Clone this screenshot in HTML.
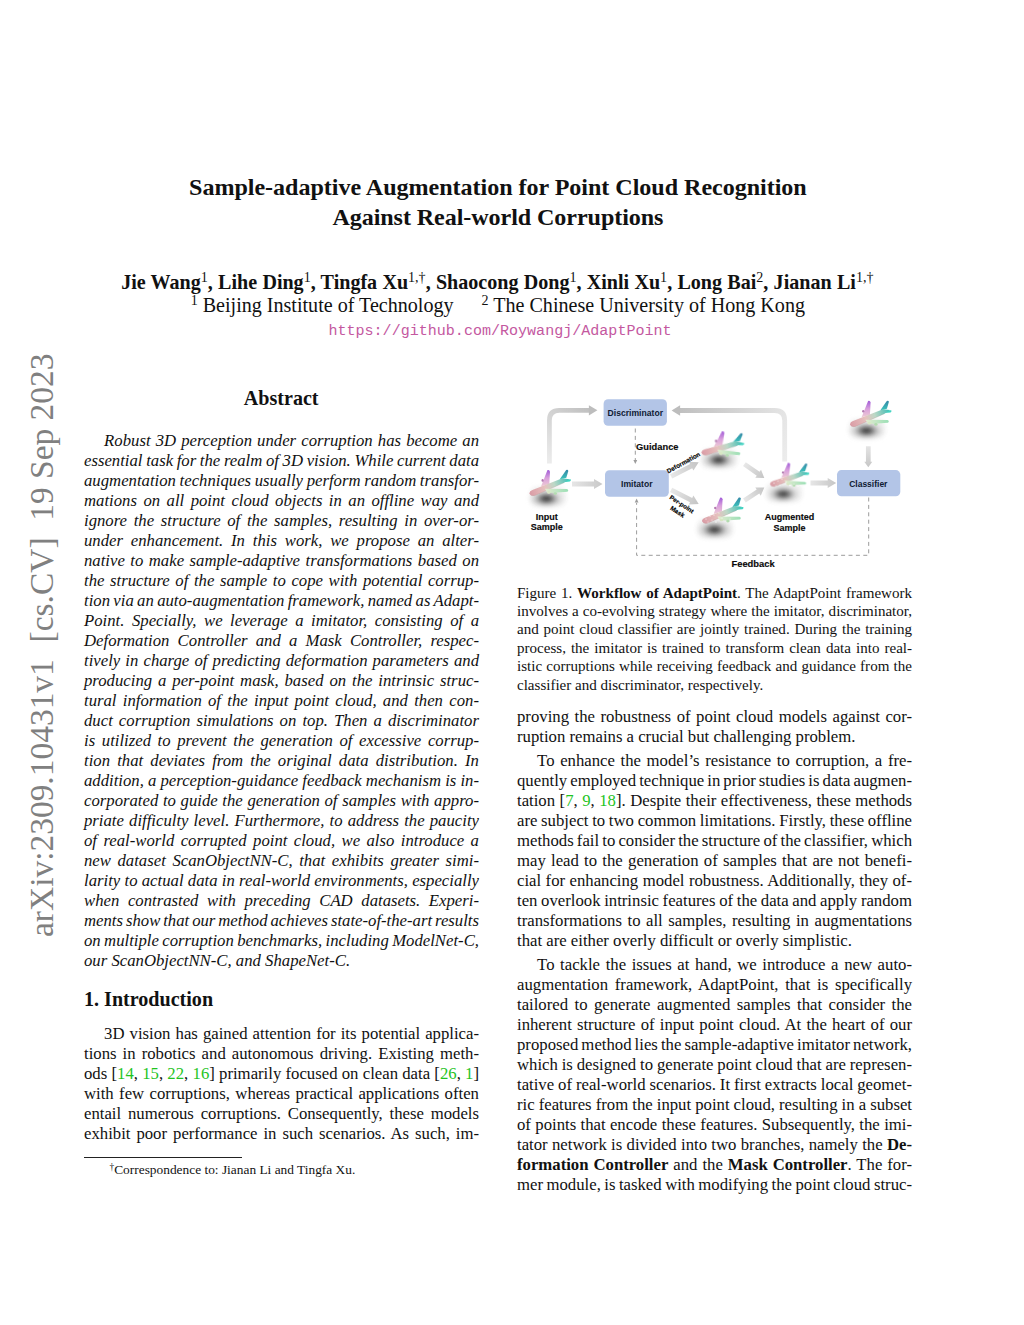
<!DOCTYPE html>
<html><head><meta charset="utf-8">
<style>
html,body{margin:0;padding:0;background:#fff;}
body{width:1024px;height:1325px;position:relative;overflow:hidden;color:#111;font-family:"Liberation Serif",serif;}
.l{position:absolute;white-space:nowrap;}
.j{text-align:justify;text-align-last:justify;}
.it{font-style:italic;}
.tb{font-weight:bold;}
.g{color:#1fc41f;}
.url{font-family:"Liberation Mono",monospace;color:#c4589f;}
sup{font-size:70%;font-weight:normal;vertical-align:0;position:relative;top:-0.5em;line-height:0;}
sup.fn{font-size:70%;top:-0.4em;}
.stamp{position:absolute;left:0;top:0;transform-origin:0 0;font-size:33.46px;color:#808080;white-space:nowrap;line-height:40px;}
</style></head><body>
<div class="stamp" style="transform:translate(22.11px,937px) rotate(-90deg);">arXiv:2309.10431v1&nbsp; [cs.CV]&nbsp; 19 Sep 2023</div>
<div class="l it" id="l0" style="top:430.71px;font-size:16.73px;line-height:20.08px;left:104.1px;width:374.9px;word-spacing:0.91px;"><span>Robust 3D perception under corruption has become an</span></div>
<div class="l it" id="l1" style="top:450.71px;font-size:16.73px;line-height:20.08px;left:84px;width:395px;word-spacing:-0.54px;"><span>essential task for the realm of 3D vision. While current data</span></div>
<div class="l it" id="l2" style="top:470.71px;font-size:16.73px;line-height:20.08px;left:84px;width:395px;word-spacing:-0.53px;"><span>augmentation techniques usually perform random transfor-</span></div>
<div class="l it" id="l3" style="top:490.71px;font-size:16.73px;line-height:20.08px;left:84px;width:395px;word-spacing:2.26px;"><span>mations on all point cloud objects in an offline way and</span></div>
<div class="l it" id="l4" style="top:510.71px;font-size:16.73px;line-height:20.08px;left:84px;width:395px;word-spacing:2.5px;"><span>ignore the structure of the samples, resulting in over-or-</span></div>
<div class="l it" id="l5" style="top:530.71px;font-size:16.73px;line-height:20.08px;left:84px;width:395px;word-spacing:3.64px;"><span>under enhancement. In this work, we propose an alter-</span></div>
<div class="l it" id="l6" style="top:550.71px;font-size:16.73px;line-height:20.08px;left:84px;width:395px;word-spacing:1.29px;"><span>native to make sample-adaptive transformations based on</span></div>
<div class="l it" id="l7" style="top:570.71px;font-size:16.73px;line-height:20.08px;left:84px;width:395px;word-spacing:1.39px;"><span>the structure of the sample to cope with potential corrup-</span></div>
<div class="l it" id="l8" style="top:590.71px;font-size:16.73px;line-height:20.08px;left:84px;width:395px;word-spacing:-0.85px;"><span>tion via an auto-augmentation framework, named as Adapt-</span></div>
<div class="l it" id="l9" style="top:610.71px;font-size:16.73px;line-height:20.08px;left:84px;width:395px;word-spacing:3.35px;"><span>Point. Specially, we leverage a imitator, consisting of a</span></div>
<div class="l it" id="l10" style="top:630.71px;font-size:16.73px;line-height:20.08px;left:84px;width:395px;word-spacing:3.99px;"><span>Deformation Controller and a Mask Controller, respec-</span></div>
<div class="l it" id="l11" style="top:650.71px;font-size:16.73px;line-height:20.08px;left:84px;width:395px;word-spacing:0.95px;"><span>tively in charge of predicting deformation parameters and</span></div>
<div class="l it" id="l12" style="top:670.71px;font-size:16.73px;line-height:20.08px;left:84px;width:395px;word-spacing:1.72px;"><span>producing a per-point mask, based on the intrinsic struc-</span></div>
<div class="l it" id="l13" style="top:690.71px;font-size:16.73px;line-height:20.08px;left:84px;width:395px;word-spacing:2.09px;"><span>tural information of the input point cloud, and then con-</span></div>
<div class="l it" id="l14" style="top:710.71px;font-size:16.73px;line-height:20.08px;left:84px;width:395px;word-spacing:1.89px;"><span>duct corruption simulations on top. Then a discriminator</span></div>
<div class="l it" id="l15" style="top:730.71px;font-size:16.73px;line-height:20.08px;left:84px;width:395px;word-spacing:2.44px;"><span>is utilized to prevent the generation of excessive corrup-</span></div>
<div class="l it" id="l16" style="top:750.71px;font-size:16.73px;line-height:20.08px;left:84px;width:395px;word-spacing:2.95px;"><span>tion that deviates from the original data distribution. In</span></div>
<div class="l it" id="l17" style="top:770.71px;font-size:16.73px;line-height:20.08px;left:84px;width:395px;word-spacing:-0.07px;"><span>addition, a perception-guidance feedback mechanism is in-</span></div>
<div class="l it" id="l18" style="top:790.71px;font-size:16.73px;line-height:20.08px;left:84px;width:395px;word-spacing:0.46px;"><span>corporated to guide the generation of samples with appro-</span></div>
<div class="l it" id="l19" style="top:810.71px;font-size:16.73px;line-height:20.08px;left:84px;width:395px;word-spacing:0.95px;"><span>priate difficulty level. Furthermore, to address the paucity</span></div>
<div class="l it" id="l20" style="top:830.71px;font-size:16.73px;line-height:20.08px;left:84px;width:395px;word-spacing:2.22px;"><span>of real-world corrupted point cloud, we also introduce a</span></div>
<div class="l it" id="l21" style="top:850.71px;font-size:16.73px;line-height:20.08px;left:84px;width:395px;word-spacing:2.4px;"><span>new dataset ScanObjectNN-C, that exhibits greater simi-</span></div>
<div class="l it" id="l22" style="top:870.71px;font-size:16.73px;line-height:20.08px;left:84px;width:395px;word-spacing:0.09px;"><span>larity to actual data in real-world environments, especially</span></div>
<div class="l it" id="l23" style="top:890.71px;font-size:16.73px;line-height:20.08px;left:84px;width:395px;word-spacing:4.41px;"><span>when contrasted with preceding CAD datasets. Experi-</span></div>
<div class="l it" id="l24" style="top:910.71px;font-size:16.73px;line-height:20.08px;left:84px;width:395px;word-spacing:-1.26px;"><span>ments show that our method achieves state-of-the-art results</span></div>
<div class="l it" id="l25" style="top:930.71px;font-size:16.73px;line-height:20.08px;left:84px;width:395px;word-spacing:-0.78px;"><span>on multiple corruption benchmarks, including ModelNet-C,</span></div>
<div class="l it" id="l26" style="top:950.71px;font-size:16.73px;line-height:20.08px;left:84px;"><span>our ScanObjectNN-C, and ShapeNet-C.</span></div>
<div class="l rm" id="l27" style="top:1024.01px;font-size:16.73px;line-height:20.08px;left:104.1px;width:374.9px;word-spacing:0.9px;"><span>3D vision has gained attention for its potential applica-</span></div>
<div class="l rm" id="l28" style="top:1044.01px;font-size:16.73px;line-height:20.08px;left:84px;width:395px;word-spacing:1.9px;"><span>tions in robotics and autonomous driving. Existing meth-</span></div>
<div class="l rm" id="l29" style="top:1064.01px;font-size:16.73px;line-height:20.08px;left:84px;width:395px;word-spacing:0.07px;"><span>ods [<span class="g">14</span>, <span class="g">15</span>, <span class="g">22</span>, <span class="g">16</span>] primarily focused on clean data [<span class="g">26</span>, <span class="g">1</span>]</span></div>
<div class="l rm" id="l30" style="top:1084.01px;font-size:16.73px;line-height:20.08px;left:84px;width:395px;word-spacing:1.22px;"><span>with few corruptions, whereas practical applications often</span></div>
<div class="l rm" id="l31" style="top:1104.01px;font-size:16.73px;line-height:20.08px;left:84px;width:395px;word-spacing:2.6px;"><span>entail numerous corruptions. Consequently, these models</span></div>
<div class="l rm" id="l32" style="top:1124.01px;font-size:16.73px;line-height:20.08px;left:84px;width:395px;word-spacing:1.79px;"><span>exhibit poor performance in such scenarios. As such, im-</span></div>
<div class="l rm" id="l33" style="top:707.31px;font-size:16.73px;line-height:20.08px;left:517px;width:395px;word-spacing:1.36px;"><span>proving the robustness of point cloud models against cor-</span></div>
<div class="l rm" id="l34" style="top:727.31px;font-size:16.73px;line-height:20.08px;left:517px;"><span>ruption remains a crucial but challenging problem.</span></div>
<div class="l rm" id="l35" style="top:751.21px;font-size:16.73px;line-height:20.08px;left:537.1px;width:374.9px;word-spacing:1.46px;"><span>To enhance the model&rsquo;s resistance to corruption, a fre-</span></div>
<div class="l rm" id="l36" style="top:771.21px;font-size:16.73px;line-height:20.08px;left:517px;width:395px;word-spacing:-1.12px;"><span>quently employed technique in prior studies is data augmen-</span></div>
<div class="l rm" id="l37" style="top:791.21px;font-size:16.73px;line-height:20.08px;left:517px;width:395px;word-spacing:0.31px;"><span>tation [<span class="g">7</span>, <span class="g">9</span>, <span class="g">18</span>]. Despite their effectiveness, these methods</span></div>
<div class="l rm" id="l38" style="top:811.21px;font-size:16.73px;line-height:20.08px;left:517px;width:395px;word-spacing:-0.48px;"><span>are subject to two common limitations. Firstly, these offline</span></div>
<div class="l rm" id="l39" style="top:831.21px;font-size:16.73px;line-height:20.08px;left:517px;width:395px;word-spacing:-1.02px;"><span>methods fail to consider the structure of the classifier, which</span></div>
<div class="l rm" id="l40" style="top:851.21px;font-size:16.73px;line-height:20.08px;left:517px;width:395px;word-spacing:1.06px;"><span>may lead to the generation of samples that are not benefi-</span></div>
<div class="l rm" id="l41" style="top:871.21px;font-size:16.73px;line-height:20.08px;left:517px;width:395px;word-spacing:0.27px;"><span>cial for enhancing model robustness. Additionally, they of-</span></div>
<div class="l rm" id="l42" style="top:891.21px;font-size:16.73px;line-height:20.08px;left:517px;width:395px;word-spacing:-0.53px;"><span>ten overlook intrinsic features of the data and apply random</span></div>
<div class="l rm" id="l43" style="top:911.21px;font-size:16.73px;line-height:20.08px;left:517px;width:395px;word-spacing:1.37px;"><span>transformations to all samples, resulting in augmentations</span></div>
<div class="l rm" id="l44" style="top:931.21px;font-size:16.73px;line-height:20.08px;left:517px;"><span>that are either overly difficult or overly simplistic.</span></div>
<div class="l rm" id="l45" style="top:955.11px;font-size:16.73px;line-height:20.08px;left:537.1px;width:374.9px;word-spacing:1.44px;"><span>To tackle the issues at hand, we introduce a new auto-</span></div>
<div class="l rm" id="l46" style="top:975.11px;font-size:16.73px;line-height:20.08px;left:517px;width:395px;word-spacing:2.58px;"><span>augmentation framework, AdaptPoint, that is specifically</span></div>
<div class="l rm" id="l47" style="top:995.11px;font-size:16.73px;line-height:20.08px;left:517px;width:395px;word-spacing:2.24px;"><span>tailored to generate augmented samples that consider the</span></div>
<div class="l rm" id="l48" style="top:1015.11px;font-size:16.73px;line-height:20.08px;left:517px;width:395px;word-spacing:1.01px;"><span>inherent structure of input point cloud. At the heart of our</span></div>
<div class="l rm" id="l49" style="top:1035.11px;font-size:16.73px;line-height:20.08px;left:517px;width:395px;word-spacing:-1.1px;"><span>proposed method lies the sample-adaptive imitator network,</span></div>
<div class="l rm" id="l50" style="top:1055.11px;font-size:16.73px;line-height:20.08px;left:517px;width:395px;word-spacing:-0.32px;"><span>which is designed to generate point cloud that are represen-</span></div>
<div class="l rm" id="l51" style="top:1075.11px;font-size:16.73px;line-height:20.08px;left:517px;width:395px;word-spacing:-0.24px;"><span>tative of real-world scenarios. It first extracts local geomet-</span></div>
<div class="l rm" id="l52" style="top:1095.11px;font-size:16.73px;line-height:20.08px;left:517px;width:395px;word-spacing:-0.11px;"><span>ric features from the input point cloud, resulting in a subset</span></div>
<div class="l rm" id="l53" style="top:1115.11px;font-size:16.73px;line-height:20.08px;left:517px;width:395px;word-spacing:0.18px;"><span>of points that encode these features. Subsequently, the imi-</span></div>
<div class="l rm" id="l54" style="top:1135.11px;font-size:16.73px;line-height:20.08px;left:517px;width:395px;word-spacing:0.14px;"><span>tator network is divided into two branches, namely the <b>De-</b></span></div>
<div class="l rm" id="l55" style="top:1155.11px;font-size:16.73px;line-height:20.08px;left:517px;width:395px;word-spacing:0.76px;"><span><b>formation Controller</b> and the <b>Mask Controller</b>. The for-</span></div>
<div class="l rm" id="l56" style="top:1175.11px;font-size:16.73px;line-height:20.08px;left:517px;width:395px;word-spacing:-0.69px;"><span>mer module, is tasked with modifying the point cloud struc-</span></div>
<div class="l cap" id="l57" style="top:583.68px;font-size:15.06px;line-height:18.07px;left:517px;width:395px;word-spacing:1px;"><span>Figure 1. <b>Workflow of AdaptPoint</b>. The AdaptPoint framework</span></div>
<div class="l cap" id="l58" style="top:602.09px;font-size:15.06px;line-height:18.07px;left:517px;width:395px;word-spacing:0.31px;"><span>involves a co-evolving strategy where the imitator, discriminator,</span></div>
<div class="l cap" id="l59" style="top:620.49px;font-size:15.06px;line-height:18.07px;left:517px;width:395px;word-spacing:1.08px;"><span>and point cloud classifier are jointly trained. During the training</span></div>
<div class="l cap" id="l60" style="top:638.9px;font-size:15.06px;line-height:18.07px;left:517px;width:395px;word-spacing:1.27px;"><span>process, the imitator is trained to transform clean data into real-</span></div>
<div class="l cap" id="l61" style="top:657.31px;font-size:15.06px;line-height:18.07px;left:517px;width:395px;word-spacing:0.49px;"><span>istic corruptions while receiving feedback and guidance from the</span></div>
<div class="l cap" id="l62" style="top:675.71px;font-size:15.06px;line-height:18.07px;left:517px;"><span>classifier and discriminator, respectively.</span></div>
<div class="l tb" id="l63" style="top:173.32px;font-size:24.09px;line-height:28.91px;left:0;width:995.8px;text-align:center;"><span><span style="letter-spacing:-0.035px">Sample-adaptive Augmentation for Point Cloud Recognition</span></span></div>
<div class="l tb" id="l64" style="top:203.32px;font-size:24.09px;line-height:28.91px;left:0;width:995.8px;text-align:center;"><span><span style="letter-spacing:-0.07px">Against Real-world Corruptions</span></span></div>
<div class="l tb" id="l65" style="top:270.28px;font-size:20.08px;line-height:24.09px;left:0;width:994.6px;text-align:center;"><span><span style="word-spacing:0.23px">Jie Wang<sup>1</sup>, Lihe Ding<sup>1</sup>, Tingfa Xu<sup>1,&dagger;</sup>, Shaocong Dong<sup>1</sup>, Xinli Xu<sup>1</sup>, Long Bai<sup>2</sup>, Jianan Li<sup>1,&dagger;</sup></span></span></div>
<div class="l rm" id="l66" style="top:293.48px;font-size:20.08px;line-height:24.09px;left:0;width:995.6px;text-align:center;"><span><sup>1</sup> Beijing Institute of Technology <span style="display:inline-block;width:23px"></span><sup>2</sup> The Chinese University of Hong Kong</span></div>
<div class="l url" id="l67" style="top:322.28px;font-size:15.06px;line-height:18.07px;left:0;width:1000px;text-align:center;"><span>https://github.com/Roywangj/AdaptPoint</span></div>
<div class="l tb" id="l68" style="top:385.78px;font-size:20.08px;line-height:24.09px;left:0;width:562.4px;text-align:center;"><span>Abstract</span></div>
<div class="l tb" id="l69" style="top:987.08px;font-size:20.08px;line-height:24.09px;left:84px;"><span>1. Introduction</span></div>
<div class="l rm" id="l70" style="top:1161.65px;font-size:13.39px;line-height:16.06px;left:109.5px;"><span><sup class='fn'>&dagger;</sup>Correspondence to: Jianan Li and Tingfa Xu.</span></div>
<svg style="position:absolute;left:0;top:0" width="1024" height="1325" viewBox="0 0 1024 1325">
<defs>
<linearGradient id="ag1" gradientUnits="userSpaceOnUse" x1="549.4" y1="463.4" x2="597.4" y2="410.3"><stop offset="0" stop-color="#ececec"/><stop offset="1" stop-color="#bdbdbd"/></linearGradient>
<linearGradient id="ag2" gradientUnits="userSpaceOnUse" x1="784.7" y1="461.5" x2="671.6" y2="410.5"><stop offset="0" stop-color="#ececec"/><stop offset="1" stop-color="#bdbdbd"/></linearGradient>
<linearGradient id="ag3" gradientUnits="userSpaceOnUse" x1="572.0" y1="484.0" x2="602.5" y2="484.0"><stop offset="0" stop-color="#e6e6e6"/><stop offset="1" stop-color="#c8c8c8"/></linearGradient>
<linearGradient id="ag4" gradientUnits="userSpaceOnUse" x1="671.1" y1="476.4" x2="698.7" y2="462.3"><stop offset="0" stop-color="#e8e8e8"/><stop offset="1" stop-color="#c4c4c4"/></linearGradient>
<linearGradient id="ag5" gradientUnits="userSpaceOnUse" x1="671.1" y1="489.9" x2="698.7" y2="503.9"><stop offset="0" stop-color="#e8e8e8"/><stop offset="1" stop-color="#c4c4c4"/></linearGradient>
<linearGradient id="ag6" gradientUnits="userSpaceOnUse" x1="744.4" y1="464.1" x2="764.3" y2="478.1"><stop offset="0" stop-color="#e8e8e8"/><stop offset="1" stop-color="#c4c4c4"/></linearGradient>
<linearGradient id="ag7" gradientUnits="userSpaceOnUse" x1="744.4" y1="500.4" x2="764.3" y2="487.5"><stop offset="0" stop-color="#e8e8e8"/><stop offset="1" stop-color="#c4c4c4"/></linearGradient>
<linearGradient id="ag8" gradientUnits="userSpaceOnUse" x1="810.5" y1="483.0" x2="836.2" y2="483.0"><stop offset="0" stop-color="#e6e6e6"/><stop offset="1" stop-color="#c6c6c6"/></linearGradient>
<linearGradient id="ag9" gradientUnits="userSpaceOnUse" x1="868.3" y1="446.3" x2="868.3" y2="467.3"><stop offset="0" stop-color="#e4e4e4"/><stop offset="1" stop-color="#c6c6c6"/></linearGradient>
<linearGradient id="fus" gradientUnits="userSpaceOnUse" x1="9" y1="34" x2="50" y2="19">
<stop offset="0" stop-color="#d99aa4"/><stop offset="0.4" stop-color="#e6c2bf"/><stop offset="0.62" stop-color="#bcd8c6"/><stop offset="0.85" stop-color="#6cc6bb"/><stop offset="1" stop-color="#36c0b6"/>
</linearGradient>
<linearGradient id="pw" gradientUnits="userSpaceOnUse" x1="0" y1="26" x2="0" y2="10">
<stop offset="0" stop-color="#ecc8d4"/><stop offset="0.5" stop-color="#d9a0dc"/><stop offset="1" stop-color="#a25cd8"/>
</linearGradient>
<linearGradient id="tf" gradientUnits="userSpaceOnUse" x1="0" y1="20" x2="0" y2="10">
<stop offset="0" stop-color="#3cc8be"/><stop offset="1" stop-color="#3488a6"/>
</linearGradient>
<linearGradient id="gw" gradientUnits="userSpaceOnUse" x1="25" y1="0" x2="48" y2="0">
<stop offset="0" stop-color="#e4ecd0"/><stop offset="1" stop-color="#9cdfb6"/>
</linearGradient>
<radialGradient id="sh" cx="0.5" cy="0.5" r="0.5">
<stop offset="0" stop-color="#202020" stop-opacity="1"/><stop offset="0.3" stop-color="#404040" stop-opacity="0.8"/><stop offset="0.65" stop-color="#8a8a8a" stop-opacity="0.35"/><stop offset="1" stop-color="#c0c0c0" stop-opacity="0"/>
</radialGradient>
<filter id="bl" x="-50%" y="-50%" width="200%" height="200%"><feGaussianBlur stdDeviation="0.3"/></filter>
<filter id="bl2" x="-50%" y="-50%" width="200%" height="200%"><feGaussianBlur stdDeviation="1.9"/></filter>
<g id="plane">
<g filter="url(#bl)">
<path d="M21,26.4 L29.3,24 L30,11.6 Q29.5,9.4 27.5,10.1 Z" fill="url(#pw)"/>
<ellipse cx="22.6" cy="20.4" rx="1.1" ry="1.3" fill="#b27ab0"/>
<path d="M39.6,19.6 L46.3,17.8 L48.3,10.9 Q47.9,9.4 46.2,10 Z" fill="url(#tf)"/>
<path d="M43.3,19.6 L50.7,19.3 Q51.4,20.7 49.9,21.6 L43.8,22.2 Z" fill="#42d4c2"/>
<path d="M9.3,33.5 Q9.6,31 12.4,30.1 L42.4,18.3 L49.3,19.2 L43.9,22.8 L14.8,35.6 Q10.4,36.6 9.3,33.5 Z" fill="url(#fus)"/>
<path d="M11,35.4 Q13,35.8 14.8,35.6 L43.9,22.8" stroke="#a88" stroke-opacity="0.35" stroke-width="0.7" fill="none"/>
<path d="M24.8,28.8 L46.9,29.1 Q49.2,30.3 47.4,31.8 L34,32.8 L27.4,32.8 Z" fill="url(#gw)"/>
<ellipse cx="28.8" cy="32.4" rx="1.7" ry="1.3" fill="#d8e6c4"/>
<ellipse cx="35.3" cy="33.5" rx="1.7" ry="1.3" fill="#b4dcb0"/>
</g>
</g>
</defs>
<!-- planes -->
<g filter="url(#bl2)">
<rect x="530" y="487" width="36" height="19" rx="7" fill="#efefef"/>
<rect x="701" y="449" width="36" height="19" rx="7" fill="#efefef"/>
<rect x="697" y="519" width="36" height="19" rx="7" fill="#efefef"/>
<rect x="766" y="483" width="36" height="19" rx="7" fill="#efefef"/>
<rect x="849" y="419" width="36" height="19" rx="7" fill="#efefef"/>
</g>
<g filter="url(#bl2)">
<ellipse cx="546.4" cy="498.6" rx="18" ry="9.5" fill="url(#sh)"/>
<ellipse cx="718.6" cy="459.9" rx="18" ry="9.5" fill="url(#sh)"/>
<ellipse cx="714.5" cy="529.6" rx="18" ry="9.5" fill="url(#sh)"/>
<ellipse cx="783.3" cy="494" rx="17" ry="9" fill="url(#sh)"/>
<ellipse cx="866.4" cy="430.6" rx="18" ry="9.5" fill="url(#sh)"/>
</g>
<use href="#plane" transform="translate(840.6,390.9)"/>
<use href="#plane" transform="translate(520,460)"/>
<use href="#plane" transform="translate(701.4,453) rotate(6.5) translate(-9.4,-34)"/>
<use href="#plane" transform="translate(692.6,487.6)"/>
<use href="#plane" transform="translate(770,484.7) rotate(3) scale(0.93,0.95) translate(-9.4,-34)"/>
<g fill="#fff" fill-opacity="0.85">
<circle cx="706" cy="519" r="0.6"/><circle cx="710" cy="516.5" r="0.5"/><circle cx="714" cy="515" r="0.6"/><circle cx="712" cy="520" r="0.5"/><circle cx="719" cy="513" r="0.5"/><circle cx="722" cy="518" r="0.6"/><circle cx="716" cy="522" r="0.7"/><circle cx="726" cy="516" r="0.5"/><circle cx="708" cy="522" r="0.5"/><circle cx="730" cy="519" r="0.5"/>
<circle cx="774" cy="483" r="0.6"/><circle cx="778" cy="481" r="0.5"/><circle cx="782" cy="479" r="0.6"/><circle cx="780" cy="485" r="0.5"/><circle cx="786" cy="482" r="0.6"/><circle cx="790" cy="485.5" r="0.7"/><circle cx="794" cy="484" r="0.5"/><circle cx="776" cy="486" r="0.5"/><circle cx="798" cy="486.5" r="0.5"/>
</g>
<path d="M549.40,463.40 L549.40,420.30 Q549.40,410.30 559.40,410.30 L589.20,410.30" stroke="url(#ag1)" stroke-width="4.80" fill="none"/>
<path d="M588.90,405.15 L597.40,410.30 L588.90,415.45 Z" fill="#bdbdbd"/>
<path d="M784.70,461.50 L784.70,420.50 Q784.70,410.50 774.70,410.50 L679.80,410.50" stroke="url(#ag2)" stroke-width="4.80" fill="none"/>
<path d="M680.10,405.35 L671.60,410.50 L680.10,415.65 Z" fill="#bdbdbd"/>
<path d="M572.00,486.40 L594.00,486.40 L594.00,489.00 L602.50,484.00 L594.00,479.00 L594.00,481.60 L572.00,481.60 Z" fill="url(#ag3)"/>
<path d="M672.19,478.54 L692.22,468.30 L693.41,470.62 L698.70,462.30 L688.86,461.71 L690.04,464.03 L670.01,474.26 Z" fill="url(#ag4)"/>
<path d="M670.01,492.04 L690.03,502.20 L688.86,504.51 L698.70,503.90 L693.38,495.60 L692.21,497.91 L672.19,487.76 Z" fill="url(#ag5)"/>
<path d="M743.02,466.06 L756.78,475.75 L755.29,477.87 L764.30,478.10 L761.04,469.70 L759.55,471.82 L745.78,462.14 Z" fill="url(#ag6)"/>
<path d="M745.71,502.41 L759.31,493.59 L760.73,495.78 L764.30,487.50 L755.29,487.38 L756.70,489.57 L743.09,498.39 Z" fill="url(#ag7)"/>
<path d="M810.50,485.40 L827.70,485.40 L827.70,488.00 L836.20,483.00 L827.70,478.00 L827.70,480.60 L810.50,480.60 Z" fill="url(#ag8)"/>
<path d="M865.95,446.30 L865.95,461.80 L864.30,461.80 L868.30,467.30 L872.30,461.80 L870.65,461.80 L870.65,446.30 Z" fill="url(#ag9)"/>
<!-- boxes -->
<g fill="#b3c5e7">
<rect x="603.6" y="399.2" width="63.3" height="26.5" rx="4.5"/>
<rect x="605" y="470.2" width="63.8" height="26.5" rx="4.5"/>
<rect x="837" y="470.1" width="63.3" height="26.2" rx="4.5"/>
</g>
<g font-family="Liberation Sans, sans-serif" font-weight="bold" fill="#0f1a33" text-anchor="middle">
<text x="635.3" y="415.8" font-size="8.6">Discriminator</text>
<text x="636.8" y="486.9" font-size="8.6">Imitator</text>
<text x="868.3" y="486.9" font-size="8.5">Classifier</text>
</g>
<g font-family="Liberation Sans, sans-serif" font-weight="bold" fill="#0a0a0a" stroke="#0a0a0a" stroke-width="0.15" text-anchor="middle" font-size="9">
<text x="657.3" y="450.3" font-size="9.3">Guidance</text>
<text x="546.8" y="519.5">Input</text>
<text x="546.8" y="530">Sample</text>
<text x="789.6" y="520.3">Augmented</text>
<text x="789.6" y="531.2">Sample</text>
<text x="753.1" y="567.3" font-size="9.4">Feedback</text>
</g>
<g font-family="Liberation Sans, sans-serif" font-weight="bold" fill="#000" stroke="#000" stroke-width="0.15" text-anchor="middle" font-size="6.3">
<text transform="translate(684.5,464.5) rotate(-29)">Deformation</text>
<text transform="translate(680.5,506) rotate(33)">Per-point</text>
<text transform="translate(676.3,513.5) rotate(33)">Mask</text>
</g>
<!-- dashed -->
<g stroke="#9c9c9c" stroke-width="1" fill="none" stroke-dasharray="4,3.4">
<path d="M635.3,428.5 L635.3,460"/>
<path d="M868.7,497.5 L868.7,555.3 L636.6,555.3 L636.6,503"/>
</g>
<g fill="#9c9c9c">
<path d="M633.4,460 L635.3,464 L637.2,460 Z"/>
<path d="M634.7,502.5 L636.6,498.5 L638.5,502.5 Z"/>
</g>
</svg>
<div class="l" style="left:84px;top:1156.5px;width:157.5px;height:0;border-top:0.8px solid #222;"></div>

</body></html>
